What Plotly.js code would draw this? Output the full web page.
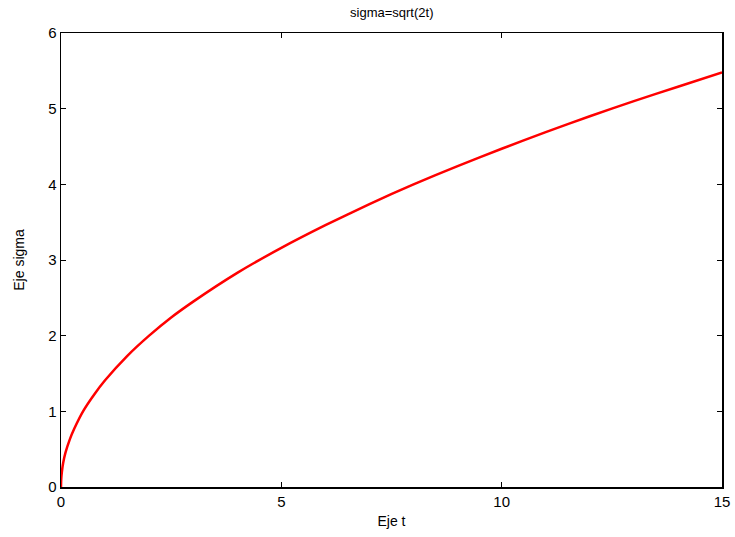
<!DOCTYPE html>
<html>
<head>
<meta charset="utf-8">
<script src="https://cdn.plot.ly/plotly-3.0.1.min.js"></script>
<style>html,body{margin:0;padding:0;background:#fff;}#plot{width:735px;height:537px;}</style>
</head>
<body>
<div id="plot"></div>
<script>
// Values
const tValues = [0, 0.005, 0.02, 0.05, 0.1, 0.2, 0.3, 0.5, 0.75, 1, 1.5, 2, 2.5, 3, 4, 5, 6, 7, 8, 9, 10, 11, 12, 13, 14, 15];
const sigmaValues = [0, 0.1, 0.2, 0.32, 0.45, 0.63, 0.77, 1.0, 1.22, 1.41, 1.73, 2.0, 2.24, 2.45, 2.83, 3.16, 3.46, 3.74, 4.0, 4.24, 4.47, 4.69, 4.9, 5.1, 5.29, 5.48];
const xTicks = [0, 5, 10, 15];
const yTicks = [0, 1, 2, 3, 4, 5, 6];

const font = {family: 'Liberation Sans, Arial, sans-serif', color: '#000'};

Plotly.newPlot('plot', [{
  x: tValues, y: sigmaValues, type: 'scatter', mode: 'lines',
  line: {color: '#ff0000', width: 2.5, shape: 'spline', smoothing: 0.6}
}], {
  width: 735, height: 537,
  margin: {l: 61, r: 13, t: 33, b: 50},
  paper_bgcolor: '#fff', plot_bgcolor: '#fff',
  showlegend: false,
  title: {text: 'sigma=sqrt(2t)', font: Object.assign({size: 13}, font), x: 0.533, xanchor: 'center', y: 0.977, yanchor: 'middle'},
  xaxis: {
    range: [0, 15], tickvals: xTicks, ticktext: xTicks.map(String),
    ticks: 'inside', ticklen: 5, tickcolor: '#000', mirror: 'ticks',
    showline: true, linecolor: '#000', linewidth: 1.5, showgrid: false, zeroline: false,
    tickfont: Object.assign({size: 15}, font),
    title: {text: 'Eje t', font: Object.assign({size: 14}, font), standoff: 7}
  },
  yaxis: {
    range: [0, 6], tickvals: yTicks, ticktext: yTicks.map(String),
    ticks: 'inside', ticklen: 5, tickcolor: '#000', mirror: 'ticks',
    showline: true, linecolor: '#000', linewidth: 1.5, showgrid: false, zeroline: false,
    tickfont: Object.assign({size: 15}, font),
    title: {text: 'Eje sigma', font: Object.assign({size: 14}, font), standoff: 20}
  }
}, {displayModeBar: false, staticPlot: true});
</script>
</body>
</html>
